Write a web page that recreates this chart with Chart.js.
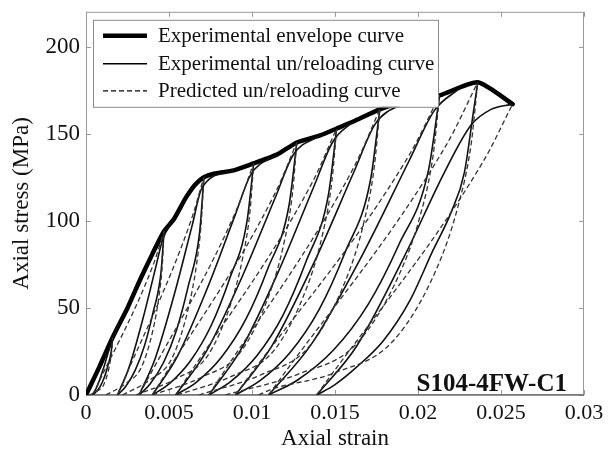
<!DOCTYPE html>
<html>
<head>
<meta charset="utf-8">
<script src="https://cdn.jsdelivr.net/npm/chart.js@4.4.1/dist/chart.umd.min.js"></script>
<style>
  html, body { margin: 0; padding: 0; background: #fff; }
  canvas { display: block; }
</style>
</head>
<body>
<canvas id="loopChart" width="611" height="459"></canvas>
<script>
// axis ticks
var xTickValues = [0, 0.005, 0.01, 0.015, 0.02, 0.025, 0.03];
var xTickLabels = ['0', '0.005', '0.01', '0.015', '0.02', '0.025', '0.03'];
var yTickValues = [0, 50, 100, 150, 200];
var yTickLabels = ['0', '50', '100', '150', '200'];

// monotonic envelope (strain, MPa)
var envelopeStrain = [0, 0.0008, 0.0016, 0.0025, 0.0033, 0.0040, 0.0047, 0.0053, 0.0060, 0.0066, 0.0071, 0.0077, 0.0089, 0.0101,
	0.0115, 0.0127, 0.0141, 0.0151, 0.0161, 0.0177, 0.0195, 0.0213, 0.0236, 0.0257];
var envelopeStress = [0, 16, 33, 50, 67, 81, 94, 101, 113, 121, 125, 127, 129, 133,
	138, 145, 149, 153, 157, 164, 169, 172, 179.5, 167];

// measured unloading branches, one per cycle, [strain, stress]
var unloadExp = [
	[[0.0004,0],[0.0006,1.7],[0.00086,5],[0.0011,10],[0.00131,16.5],[0.00152,25],[0.0016,33]],
	[[0.0019,0],[0.00238,4.7],[0.00296,14.1],[0.00352,28.2],[0.00403,47],[0.00452,70.5],[0.0047,94]],
	[[0.0032,0],[0.00386,6.3],[0.00468,18.8],[0.00546,37.5],[0.00616,62.5],[0.00685,93.8],[0.0071,125]],
	[[0.0040,0],[0.00504,6.7],[0.00632,20],[0.00754,39.9],[0.00864,66.5],[0.0097,99.8],[0.0101,133]],
	[[0.0054,0],[0.00664,7.3],[0.00817,21.8],[0.00963,43.5],[0.01095,72.5],[0.01223,108.8],[0.0127,145]],
	[[0.0074,0],[0.00871,7.7],[0.01033,23],[0.01187,45.9],[0.01325,76.5],[0.0146,114.8],[0.0151,153]],
	[[0.0090,0],[0.01048,8.2],[0.01231,24.6],[0.01405,49.2],[0.01561,82],[0.01713,123],[0.0177,164]],
	[[0.0110,0],[0.01275,8.6],[0.01491,25.8],[0.01697,51.6],[0.01883,86],[0.02063,129],[0.0213,172]],
	[[0.0139,0],[0.0150,6],[0.0163,16],[0.0179,31],[0.0195,54],[0.0209,83],[0.0220,105],[0.0228,128],[0.0233,160],[0.0236,179.5]]
];

// measured reloading branches
var reloadExp = [
	[[0.0004,0],[0.0007,5.6],[0.00106,15.5],[0.00138,25.7],[0.00156,31.4],[0.0020,41]],
	[[0.0019,0],[0.0026,16],[0.00344,44.2],[0.0042,73.3],[0.00462,89.3],[0.0053,101]],
	[[0.0032,0],[0.00418,21.3],[0.00535,58.8],[0.0064,97.5],[0.00698,118.8],[0.0089,129]],
	[[0.0040,0],[0.00553,22.6],[0.00736,62.5],[0.0090,103.7],[0.00992,126.4],[0.0115,138]],
	[[0.0054,0],[0.00723,24.7],[0.00942,68.2],[0.01139,113.1],[0.01248,137.8],[0.0141,149]],
	[[0.0074,0],[0.00933,26],[0.01164,71.9],[0.01371,119.3],[0.01487,145.4],[0.0161,157]],
	[[0.0090,0],[0.01118,27.9],[0.01379,77.1],[0.01613,127.9],[0.01744,155.8],[0.0195,169]],
	[[0.0110,0],[0.01358,29.2],[0.01667,80.8],[0.01945,134.2],[0.02099,163.4],[0.0225,176]],
	[[0.0139,0],[0.0163,28],[0.0192,80],[0.0216,128],[0.0232,155],[0.0244,164],[0.0257,167]]
];

// model unloading branches
var unloadPred = [
	[[0.0002,0],[0.00068,2.3],[0.00105,5.6],[0.00133,13.2],[0.00147,19.8],[0.00156,26.4],[0.0016,33]],
	[[0.0012,0],[0.00239,6.6],[0.00334,16],[0.00404,37.6],[0.00439,56.4],[0.0046,75.2],[0.0047,94]],
	[[0.0022,0],[0.00387,8.8],[0.00519,21.3],[0.00617,50],[0.00666,75],[0.00695,100],[0.0071,125]],
	[[0.0030,0],[0.00541,9.3],[0.00733,22.6],[0.00875,53.2],[0.00946,79.8],[0.00989,106.4],[0.0101,133]],
	[[0.0040,0],[0.00696,10.2],[0.00931,24.7],[0.01105,58],[0.01192,87],[0.01244,116],[0.0127,145]],
	[[0.0055,0],[0.00876,10.7],[0.01136,26],[0.01328,61.2],[0.01424,91.8],[0.01481,122.4],[0.0151,153]],
	[[0.0068,0],[0.01051,11.5],[0.01345,27.9],[0.01563,65.6],[0.01672,98.4],[0.01737,131.2],[0.0177,164]],
	[[0.0084,0],[0.01279,12],[0.01627,29.2],[0.01885,68.8],[0.02014,103.2],[0.02091,137.6],[0.0213,172]],
	[[0.0104,0],[0.0111,3],[0.0149,12.5],[0.0185,31],[0.0211,72],[0.0224,108],[0.0232,144],[0.0236,179.5]]
];

// model reloading branches
var reloadPred = [
	[[0.0004,0],[0.00406,75],[0.0047,94]],
	[[0.0019,0],[0.00632,100],[0.0071,125]],
	[[0.0032,0],[0.00907,106.4],[0.0101,133]],
	[[0.0040,0],[0.0114,116],[0.0127,145]],
	[[0.0054,0],[0.01365,122.4],[0.0151,153]],
	[[0.0074,0],[0.01616,131.2],[0.0177,164]],
	[[0.0090,0],[0.01946,137.6],[0.0213,172]],
	[[0.0110,0],[0.02171,143.6],[0.0236,179.5]],
	[[0.0139,0],[0.0239,133.6],[0.0257,167]]
];

var legendLabels = ['Experimental envelope curve', 'Experimental un/reloading curve', 'Predicted un/reloading curve'];
var specimenName = 'S104-4FW-C1';

var serif = "'Liberation Serif', 'Times New Roman', serif";

function toPoints(pairs) {
	return pairs.map(function(p){ return {x: p[0], y: p[1]}; });
}

function branch(pairs, dashed) {
	return {
		data: toPoints(pairs),
		showLine: true,
		borderColor: dashed ? '#333' : '#111',
		borderWidth: dashed ? 1.3 : 1.6,
		borderDash: dashed ? [5, 3] : [],
		pointRadius: 0,
		cubicInterpolationMode: 'monotone',
		fill: false
	};
}

let datasets = [];
for (let i = 0; i < unloadExp.length; i++) {
	datasets.push(branch(unloadPred[i], true));
	datasets.push(branch(reloadPred[i], true));
}
for (let i = 0; i < unloadExp.length; i++) {
	datasets.push(branch(unloadExp[i], false));
	datasets.push(branch(reloadExp[i], false));
}
datasets.push({
	data: envelopeStrain.map(function(e, i){ return {x: e, y: envelopeStress[i]}; }),
	showLine: true,
	borderColor: '#000',
	borderWidth: 4.5,
	borderCapStyle: 'round',
	borderJoinStyle: 'round',
	pointRadius: 0,
	tension: 0.2,
	fill: false
});

// box round the plot with inward tick marks
const frame = {
	id: 'frame',
	beforeDatasetsDraw(chart) {
		const ctx = chart.ctx, a = chart.chartArea;
		const xs = chart.scales.x, ys = chart.scales.y;
		ctx.save();
		ctx.strokeStyle = '#9a9a9a';
		ctx.lineWidth = 1;
		ctx.strokeRect(a.left + 0.5, a.top + 0.5, a.right - a.left - 1, a.bottom - a.top - 1);
		ctx.beginPath();
		xTickValues.forEach(function(v){
			let px = Math.round(xs.getPixelForValue(v)) + 0.5;
			ctx.moveTo(px, a.top); ctx.lineTo(px, a.top + 5);
			ctx.moveTo(px, a.bottom); ctx.lineTo(px, a.bottom - 5);
		});
		yTickValues.forEach(function(v){
			let py = Math.round(ys.getPixelForValue(v)) + 0.5;
			ctx.moveTo(a.left, py); ctx.lineTo(a.left + 5, py);
			ctx.moveTo(a.right, py); ctx.lineTo(a.right - 5, py);
		});
		ctx.stroke();
		ctx.strokeStyle = '#6e6e6e';
		ctx.lineWidth = 1.6;
		ctx.beginPath();
		ctx.moveTo(a.left, a.bottom); ctx.lineTo(a.right, a.bottom);
		ctx.stroke();
		ctx.restore();
	},
	afterDatasetsDraw(chart) {
		const ctx = chart.ctx, a = chart.chartArea;
		ctx.save();
		// legend box
		let bx = a.left + 7, by = a.top + 8, bw = 345, bh = 87;
		ctx.fillStyle = '#fff';
		ctx.fillRect(bx, by, bw, bh);
		ctx.strokeStyle = '#8a8a8a';
		ctx.lineWidth = 1;
		ctx.strokeRect(bx + 0.5, by + 0.5, bw, bh);
		let rows = [by + 16, by + 44, by + 71];
		let styles = [[4.5, []], [1.6, []], [1.3, [5, 3]]];
		ctx.strokeStyle = '#000';
		for (let i = 0; i < 3; i++) {
			ctx.lineWidth = styles[i][0];
			ctx.setLineDash(styles[i][1]);
			ctx.beginPath();
			ctx.moveTo(bx + 10, rows[i]);
			ctx.lineTo(bx + 54, rows[i]);
			ctx.stroke();
		}
		ctx.setLineDash([]);
		ctx.fillStyle = '#111';
		ctx.font = '21px ' + serif;
		ctx.textBaseline = 'middle';
		ctx.textAlign = 'left';
		for (let i = 0; i < 3; i++) {
			ctx.fillText(legendLabels[i], bx + 65, rows[i] + 1);
		}
		// specimen tag
		ctx.font = 'bold 25px ' + serif;
		ctx.textAlign = 'right';
		ctx.textBaseline = 'alphabetic';
		ctx.fillText(specimenName, a.right - 17, a.bottom - 4);
		ctx.restore();
	}
};

const config = {
	type: 'scatter',
	data: { datasets: datasets },
	options: {
		responsive: false,
		animation: false,
		devicePixelRatio: 1,
		layout: { padding: { top: 10, right: 27, left: 0, bottom: 0 } },
		plugins: {
			legend: { display: false },
			tooltip: { enabled: false }
		},
		scales: {
			x: {
				type: 'linear',
				min: 0,
				max: 0.03,
				afterBuildTicks: function(s){ s.ticks = xTickValues.map(function(v){ return {value: v}; }); },
				afterFit: function(s){ s.height = 64; },
				grid: { display: false },
				border: { display: false },
				ticks: {
					autoSkip: false,
					maxRotation: 0,
					padding: -3,
					color: '#111',
					font: { family: serif, size: 22 },
					callback: function(v, i){ return xTickLabels[i]; }
				},
				title: {
					display: true,
					text: 'Axial strain',
					color: '#111',
					font: { family: serif, size: 23 },
					padding: { top: 0, bottom: 6 }
				}
			},
			y: {
				type: 'linear',
				min: 0,
				max: 220,
				afterBuildTicks: function(s){ s.ticks = yTickValues.map(function(v){ return {value: v}; }); },
				afterFit: function(s){ s.width = 86; },
				grid: { display: false },
				border: { display: false },
				ticks: {
					autoSkip: false,
					padding: -2,
					color: '#111',
					font: { family: serif, size: 23 },
					callback: function(v, i){ return yTickLabels[i]; }
				},
				title: {
					display: true,
					text: 'Axial stress (MPa)',
					color: '#111',
					font: { family: serif, size: 23 },
					padding: { top: 8, bottom: 0 }
				}
			}
		}
	},
	plugins: [frame]
};

new Chart(document.getElementById('loopChart'), config);
</script>
</body>
</html>
